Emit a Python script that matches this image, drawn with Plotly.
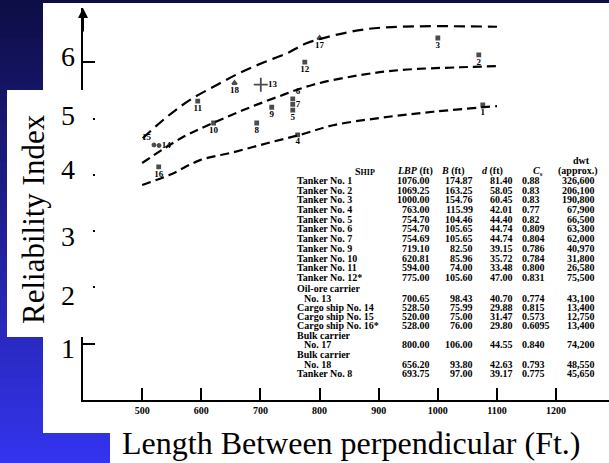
import plotly.graph_objects as go

# ---------------- data ----------------
ship_ids = [1, 2, 3, 4, 5, 6, 7, 8, 9, 10, 11, 12, 13, 14, 15, 16, 17, 18]
ship_lbp = [1076.00, 1069.25, 1000.00, 763.00, 754.70, 754.70, 754.69, 693.75, 719.10,
            620.81, 594.00, 775.00, 700.65, 528.50, 520.00, 528.00, 800.00, 656.20]
ship_beta = [5.24, 6.13, 6.43, 4.71, 5.15, 5.35, 5.25, 4.92, 5.20,
             4.92, 5.31, 6.00, 5.60, 4.52, 4.53, 4.14, 6.43, 5.63]

upper_x = [501, 542, 581, 627, 665, 704, 745, 779, 868, 936, 1100]
upper_y = [4.65, 5.03, 5.33, 5.60, 5.81, 5.99, 6.16, 6.34, 6.57, 6.63, 6.63]
middle_x = [500, 569, 620, 671, 728, 789, 868, 936, 1037, 1100]
middle_y = [4.21, 4.67, 4.92, 5.15, 5.38, 5.60, 5.77, 5.86, 5.91, 5.93]
lower_x = [500, 547, 598, 654, 711, 767, 823, 902, 992, 1100]
lower_y = [3.82, 4.00, 4.26, 4.40, 4.56, 4.71, 4.88, 5.01, 5.12, 5.22]

x_ticks = [500, 600, 700, 800, 900, 1000, 1100, 1200]
y_ticks = [1, 2, 3, 4, 5, 6]
slide_y_labels = ["6", "5", "4", "3", "2", "1"]

table_names = ["Tanker No. 1", "Tanker No. 2", "Tanker No. 3", "Tanker No. 4", "Tanker No. 5",
               "Tanker No. 6", "Tanker No. 7", "Tanker No. 9", "Tanker No. 10", "Tanker No. 11",
               "Tanker No. 12*", "Oil-ore carrier", "No. 13", "Cargo ship No. 14",
               "Cargo ship No. 15", "Cargo ship No. 16*", "Bulk carrier", "No. 17",
               "Bulk carrier", "No. 18", "Tanker No. 8"]
table_lbp = ["1076.00", "1069.25", "1000.00", "763.00", "754.70", "754.70", "754.69", "719.10",
             "620.81", "594.00", "775.00", "", "700.65", "528.50", "520.00", "528.00", "",
             "800.00", "", "656.20", "693.75"]
table_b = ["174.87", "163.25", "154.76", "115.99", "104.46", "105.65", "105.65", "82.50",
           "85.96", "74.00", "105.60", "", "98.43", "75.99", "75.00", "76.00", "",
           "106.00", "", "93.80", "97.00"]
table_d = ["81.40", "58.05", "60.45", "42.01", "44.40", "44.74", "44.74", "39.15", "35.72",
           "33.48", "47.00", "", "40.70", "29.88", "31.47", "29.80", "", "44.55", "",
           "42.63", "39.17"]
table_cs = ["0.88", "0.83", "0.83", "0.77", "0.82", "0.809", "0.804", "0.786", "0.784",
            "0.800", "0.831", "", "0.774", "0.815", "0.573", "0.6095", "", "0.840", "",
            "0.793", "0.775"]
table_dwt = ["326,600", "206,100", "190,800", "67,900", "66,500", "63,300", "62,000",
             "40,970", "31,800", "26,580", "75,500", "", "43,100", "13,400", "12,750",
             "13,400", "", "74,200", "", "48,550", "45,650"]
table_row_py = [180, 190, 199, 209, 219, 228, 238, 248, 258, 267, 277, 288, 298, 307,
                316, 325, 335, 344, 354, 364, 373]

# ---------------- helpers (pixel -> paper) ----------------
W, H = 609, 463
def PX(px):
    return px / W
def PY(py):
    return 1 - py / H

fig = go.Figure()

# background gradient (slide)
shapes = []
n = 60
for i in range(n):
    t = i / (n - 1)
    r = int(14 + (52 - 14) * t)
    g = int(14 + (52 - 14) * t)
    b = int(70 + (238 - 70) * t)
    shapes.append(dict(type="rect", xref="paper", yref="paper", layer="below",
                       x0=0, x1=1, y0=1 - (i + 1) / n - 0.002, y1=1 - i / n,
                       fillcolor=f"rgb({r},{g},{b})", line_width=0))
# scanned chart area
shapes.append(dict(type="rect", xref="paper", yref="paper", layer="below",
                   x0=PX(43), x1=1, y0=PY(433), y1=PY(3),
                   fillcolor="white", line_width=0))
# x-label text box
shapes.append(dict(type="rect", xref="paper", yref="paper", layer="below",
                   x0=PX(110), x1=1, y0=0, y1=PY(418),
                   fillcolor="white", line_width=0))
# y-label text box (above axis)
shapes.append(dict(type="rect", xref="paper", yref="paper", layer="above",
                   x0=PX(7), x1=PX(93), y0=PY(337), y1=PY(90),
                   fillcolor="white", line_width=0))

dash_style = dict(color="black", width=2.2)
fig.add_trace(go.Scatter(x=upper_x, y=upper_y, mode="lines", line_shape="spline",
                         line=dict(dash="11px,6px", **dash_style), hoverinfo="skip"))
fig.add_trace(go.Scatter(x=middle_x, y=middle_y, mode="lines", line_shape="spline",
                         line=dict(dash="9px,5px", **dash_style), hoverinfo="skip"))
fig.add_trace(go.Scatter(x=lower_x, y=lower_y, mode="lines", line_shape="spline",
                         line=dict(dash="9px,5px", **dash_style), hoverinfo="skip"))

symbols = []
sizes = []
positions = []
for sid in ship_ids:
    if sid in (17, 18):
        symbols.append("triangle-up"); sizes.append(4)
    elif sid == 13:
        symbols.append("cross-thin"); sizes.append(10)
    elif sid in (14, 15):
        symbols.append("circle"); sizes.append(3)
    else:
        symbols.append("square"); sizes.append(3)
    if sid == 6:
        positions.append("top right")
    elif sid in (7, 13, 14):
        positions.append("middle right")
    elif sid == 15:
        positions.append("top left")
    else:
        positions.append("bottom center")

fig.add_trace(go.Scatter(
    x=ship_lbp, y=ship_beta, mode="markers+text",
    text=[str(s) for s in ship_ids], textposition=positions,
    textfont=dict(family="Liberation Serif", size=9, color="black", weight="bold"),
    marker=dict(symbol=symbols, size=sizes, color="black",
                line=dict(color="black", width=1.8)),
    hoverinfo="skip"))

fig.update_xaxes(range=[400, 400 + (W - 83) / 0.5914], domain=[PX(83), 1],
                 showline=True, linecolor="black", linewidth=2,
                 ticks="inside", ticklen=12, tickwidth=2, tickcolor="black",
                 tickvals=x_ticks, ticktext=[str(v) for v in x_ticks],
                 tickfont=dict(family="Liberation Serif", size=10, color="black", weight="bold"),
                 showgrid=False, zeroline=False, fixedrange=True)
fig.update_yaxes(range=[0, 392 / 56.3], domain=[PY(400), PY(8)],
                 showline=True, linecolor="black", linewidth=2,
                 ticks="inside", ticklen=12, tickwidth=2, tickcolor="black",
                 tickvals=y_ticks, showticklabels=False,
                 showgrid=False, zeroline=False, fixedrange=True)

ann = []
# axis arrow
ann.append(dict(x=400, y=392 / 56.3, xref="x", yref="y", ax=0, ay=25, text="",
                showarrow=True, arrowhead=2, arrowsize=1, arrowwidth=2, arrowcolor="black"))
# slide overlay y numbers
label_py = [56, 116, 169, 236, 295, 348]
for lab, py in zip(slide_y_labels, label_py):
    ann.append(dict(x=PX(68), y=PY(py), xref="paper", yref="paper", text=lab,
                    showarrow=False, xanchor="center", yanchor="middle",
                    font=dict(family="Liberation Serif", size=28, color="black")))
ann.append(dict(x=PX(33), y=PY(219), xref="paper", yref="paper", text="Reliability Index",
                textangle=-90, showarrow=False, xanchor="center", yanchor="middle",
                font=dict(family="Liberation Serif", size=31, color="black")))
ann.append(dict(x=PX(351), y=PY(443), xref="paper", yref="paper",
                text="Length Between perpendicular (Ft.)",
                showarrow=False, xanchor="center", yanchor="middle",
                font=dict(family="Liberation Serif", size=32, color="black")))

# table
tf = dict(family="Liberation Serif", size=10, color="black", weight="bold")
def tx(px, py, text, anchor):
    ann.append(dict(x=PX(px), y=PY(py), xref="paper", yref="paper", text=text,
                    showarrow=False, xanchor=anchor, yanchor="middle", font=tf))

tx(365, 171, "S<span style='font-size:8px'>HIP</span>", "center")
tx(435, 171, "<i>LBP</i> (ft)", "right")
tx(467, 171, "<i>B</i> (ft)", "right")
tx(505, 171, "<i>d</i> (ft)", "right")
tx(538, 171, "<i>C</i><sub>s</sub>", "center")
tx(581, 161, "dwt", "center")
tx(600, 171, "(approx.)", "right")
for name, l, b, d, c, w, py in zip(table_names, table_lbp, table_b, table_d, table_cs,
                                  table_dwt, table_row_py):
    indent = 302 if name.startswith("No.") else 295
    tx(indent, py, name, "left")
    if l:
        tx(432, py, l, "right")
        tx(475, py, b, "right")
        tx(515, py, d, "right")
        tx(520, py, c, "left")
        tx(597, py, w, "right")

fig.update_layout(width=W, height=H, margin=dict(l=0, r=0, t=0, b=0),
                  paper_bgcolor="rgb(14,14,70)", plot_bgcolor="rgba(0,0,0,0)",
                  showlegend=False, shapes=shapes, annotations=ann)

fig.write_html("out.html", config={"displayModeBar": False},
               post_script="document.body.style.margin='0';document.body.style.padding='0';")
